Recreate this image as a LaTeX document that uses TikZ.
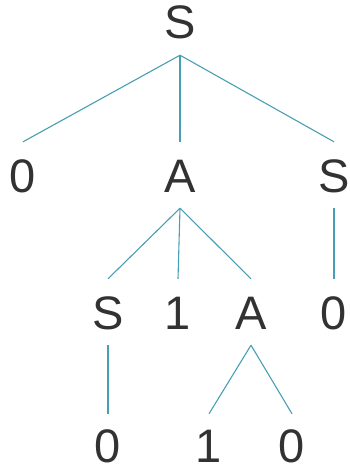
\documentclass[tikz,border=0pt]{standalone}
\usepackage{fontspec}
\setmainfont{Liberation Sans}
\usepackage{tikz}
\definecolor{branch}{RGB}{72,158,178}
\definecolor{ink}{RGB}{50,50,50}

\begin{document}
\begin{tikzpicture}[x=1pt, y=-1pt,
    sym/.style={font=\fontsize{47}{47}\selectfont, text=ink, inner xsep=0pt,
                inner ysep=16pt, text height=34pt, text depth=0pt},
    low/.style={sym, inner ysep=0pt},
    edge/.style={draw=branch, line width=1.1pt}]
  \useasboundingbox (0,0) rectangle (349,473);
  \node (root) [sym] at (180,22) {S};
  \node (z1) [sym] at (23,175) {0};
  \node (a1) [sym] at (180,175) {A};
  \node (s1) [sym] at (334,175) {S};
  \node (s2) [sym] at (108,312) {S};
  \node (o2) [sym] at (178,312) {1};
  \node (a2) [sym] at (251,312) {A};
  \node (z2) [sym] at (334,312) {0};
  \node (z3) [low] at (108,445) {0};
  \node (o3) [low] at (209,445) {1};
  \node (z4) [low] at (292,445) {0};
  \draw[edge] (root.south) -- (z1.north);
  \draw[edge] (root.south) -- (a1.north);
  \draw[edge] (root.south) -- (s1.north);
  \draw[edge] (a1.south) -- (s2.north);
  \draw[edge] (a1.south) -- (o2.north);
  \draw[edge] (a1.south) -- (a2.north);
  \draw[edge] (s1.south) -- (z2.north);
  \draw[edge] (s2.south) -- ([yshift=14pt]z3.north);
  \draw[edge] (a2.south) -- ([yshift=14pt]o3.north);
  \draw[edge] (a2.south) -- ([yshift=14pt]z4.north);
\end{tikzpicture}
\end{document}
